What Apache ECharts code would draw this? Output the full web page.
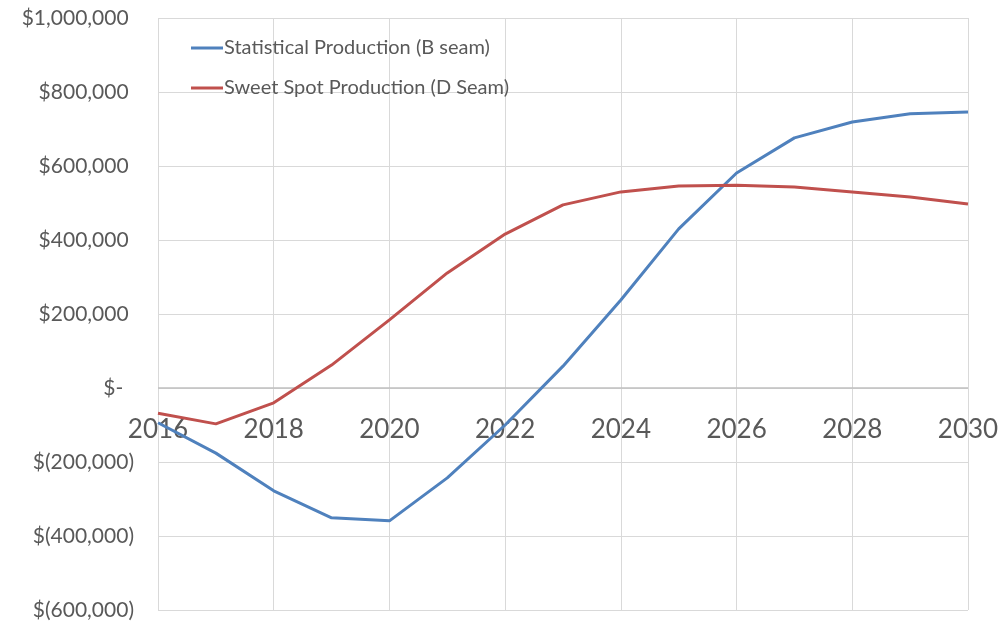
<!DOCTYPE html>
<html><head><meta charset="utf-8">
<script src="https://cdn.jsdelivr.net/npm/echarts@6/dist/echarts.min.js"></script>
<style>html,body{margin:0;padding:0;background:#fff}#c{width:1002px;height:626px}</style>
</head><body><div id="c"></div>
<script>
const years = [2016,2017,2018,2019,2020,2021,2022,2023,2024,2025,2026,2027,2028,2029,2030];
const seriesNames = ['Statistical Production (B seam)','Sweet Spot Production (D Seam)'];
const bSeam = [-94000,-176000,-278000,-351000,-359000,-243000,-100000,59000,238000,430000,581000,676000,719000,741000,746000];
const dSeam = [-68000,-97000,-40000,62000,184000,311000,416000,495000,530000,546000,548000,543000,530000,516000,497000];
const colors = ['#4F81BD','#C0504D'];

function fmt(v){
  if (v === 0) return '$-  ';
  const s = Math.abs(v).toLocaleString('en-US');
  return v < 0 ? '$(' + s + ')' : '$' + s + ' ';
}
const font = 'Lato, "Open Sans", sans-serif';
const chart = echarts.init(document.getElementById('c'));
chart.setOption({
  animation:false,
  backgroundColor:'#fff',
  grid:{left:158,right:34,top:18,bottom:16,containLabel:false,outerBoundsMode:'none'},
  legend:{
    orient:'vertical', left:186, top:33, itemGap:20,
    itemWidth:32, itemHeight:3, icon:'rect',
    textStyle:{fontFamily:font,fontSize:20,color:'#595959',padding:[0,0,0,-4]},
    data:seriesNames
  },
  xAxis:{
    type:'value', min:2016, max:2030, interval:2,
    position:'bottom', offset:-222,
    axisLine:{show:false,onZero:false},
    axisTick:{show:false},
    axisLabel:{fontFamily:font,fontSize:26,color:'#595959',margin:29,formatter:v=>String(v),showMinLabel:true,showMaxLabel:true},
    splitLine:{show:true,lineStyle:{color:'#d9d9d9',width:1}}
  },
  yAxis:{
    type:'value', min:-600000, max:1000000, interval:200000,
    axisLine:{show:false}, axisTick:{show:false},
    axisLabel:{fontFamily:font,fontSize:21,color:'#595959',margin:24,formatter:fmt},
    splitLine:{show:true,lineStyle:{color:'#d9d9d9',width:1}}
  },
  series:[
    {name:seriesNames[0],type:'line',data:years.map((y,i)=>[y,bSeam[i]]),symbol:'none',lineStyle:{width:3,color:colors[0]},itemStyle:{color:colors[0]},z:3,
     markLine:{silent:true,symbol:'none',label:{show:false},lineStyle:{color:'#bfbfbf',width:1.5,type:'solid'},data:[{yAxis:0}],z:1}},
    {name:seriesNames[1],type:'line',data:years.map((y,i)=>[y,dSeam[i]]),symbol:'none',lineStyle:{width:3,color:colors[1]},itemStyle:{color:colors[1]},z:3}
  ]
});
</script></body></html>
